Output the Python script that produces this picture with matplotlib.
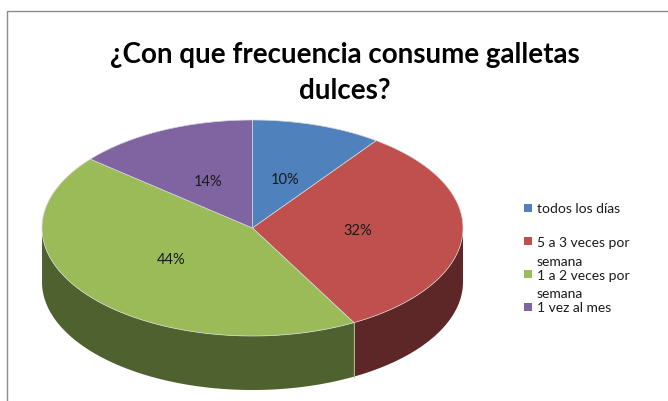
import numpy as np
import matplotlib
matplotlib.use("Agg")
import matplotlib.pyplot as plt
from matplotlib.patches import Polygon, Rectangle

categories = ["todos los días", "5 a 3 veces por\nsemana", "1 a 2 veces por\nsemana", "1 vez al mes"]
values = [10, 32, 44, 14]
labels = ["10%", "32%", "44%", "14%"]
top_colors = ["#4F81BD", "#C0504D", "#9BBB59", "#8064A2"]
side_colors = ["#2B4A70", "#5E2727", "#4F612F", "#45355A"]
title_lines = ["¿Con que frecuencia consume galletas", "dulces?"]

W, H = 668, 401
fig = plt.figure(figsize=(W / 100, H / 100), dpi=100)
ax = fig.add_axes([0, 0, 1, 1])
ax.set_xlim(0, W)
ax.set_ylim(H, 0)
ax.axis("off")

# frame
ax.plot([7, 7, W + 5], [H + 5, 11, 11], color="#8C8C8C", lw=1.0, solid_capstyle="butt")

cx, cy, rx, ry, depth = 252.5, 228, 210.5, 108, 54


def pt(theta_deg, dy=0.0):
    t = np.radians(theta_deg)
    return cx + rx * np.sin(t), cy - ry * np.cos(t) + dy


total = float(sum(values))
starts = np.cumsum([0] + values[:-1]) / total * 360
ends = np.cumsum(values) / total * 360

# sides (visible front half: 90..270 degrees clockwise from top)
for s, e, col in zip(starts, ends, side_colors):
    a, b = max(s, 90), min(e, 270)
    if b <= a:
        continue
    th = np.linspace(a, b, 200)
    xs, ys = pt(th)
    xb, yb = pt(th[::-1], depth)
    poly = np.column_stack([np.concatenate([xs, xb]), np.concatenate([ys, yb])])
    ax.add_patch(Polygon(poly, closed=True, facecolor=col, edgecolor="none"))
    for ang in (s, e):
        if 90 < ang < 270:
            x0, y0 = pt(ang)
            x1, y1 = pt(ang, depth)
            ax.plot([x0, x1], [y0, y1], color="#A9B98A", lw=0.6)

# tops
for s, e, col in zip(starts, ends, top_colors):
    th = np.linspace(s, e, 300)
    xs, ys = pt(th)
    poly = np.column_stack([np.concatenate([[cx], xs]), np.concatenate([[cy], ys])])
    ax.add_patch(Polygon(poly, closed=True, facecolor=col, edgecolor="#D8D8D8", lw=0.5))

# percentage labels
for s, e, lab in zip(starts, ends, labels):
    m = np.radians((s + e) / 2)
    x = cx + 0.5 * rx * np.sin(m)
    y = cy - 0.47 * ry * np.cos(m)
    ax.text(x, y, lab, ha="center", va="center", fontsize=10.5, family="Lato", color="#1A1A1A")

# title
for i, ln in enumerate(title_lines):
    ax.text(345, 63 + i * 36, ln, ha="center", va="baseline", fontsize=20, family="Lato",
            fontweight="bold", color="black")

# legend
sq_y = [207.5, 240.5, 273.5, 307]
txt_y = [209, 243, 276, 308]
for yy, ty, col, cat in zip(sq_y, txt_y, top_colors, categories):
    ax.add_patch(Rectangle((523.5, yy - 4), 8, 8, facecolor=col, edgecolor="none"))
    for i, ln in enumerate(cat.split("\n")):
        ax.text(537, ty + i * 18.5, ln, ha="left", va="center", fontsize=10, family="Lato",
                color="#1A1A1A")

fig.savefig("out.png", dpi=100)
